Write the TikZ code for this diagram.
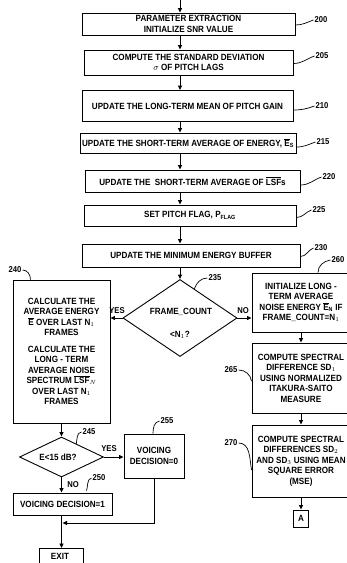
\documentclass[tikz,border=0pt]{standalone}
\usepackage{fontspec}
\setmainfont{Liberation Sans}[FakeStretch=0.9]
\usetikzlibrary{shapes.geometric,arrows.meta,calc}
\newcommand\bxfont{\bfseries\fontsize{9}{10.5}\selectfont}
\newcommand\lbfont{\bfseries\fontsize{8.5}{10}\selectfont}
\newcommand\ovl[1]{$\overline{\mbox{#1}}$}
\begin{document}
\begin{tikzpicture}[x=1pt,y=-1pt,
  box/.style={draw,line width=0.9pt,inner sep=1pt,align=center,font=\bxfont},
  dia/.style={draw,diamond,line width=0.9pt,inner sep=0pt},
  txt/.style={font=\bxfont,inner sep=0pt,align=center},
  arr/.style={line width=0.9pt,-{Triangle[length=4.5pt,width=4pt]}},
  lead/.style={line width=0.7pt},
  lbl/.style={font=\lbfont,inner sep=0pt}]
\clip (0,0) rectangle (347,563);
% main column
\coordinate (top) at (180,0);
\node[box,minimum width=213pt,minimum height=22pt] (b200) at (188.5,24) {PARAMETER EXTRACTION\\INITIALIZE SNR VALUE};
\node[box,minimum width=209pt,minimum height=25pt] (b205) at (188.5,62.5) {COMPUTE THE STANDARD DEVIATION\\$\sigma$ OF PITCH LAGS};
\node[box,minimum width=211pt,minimum height=31pt] (b210) at (187.5,106) {UPDATE THE LONG-TERM MEAN OF PITCH GAIN};
\node[box,minimum width=216pt,minimum height=20pt] (b215) at (188,143) {UPDATE THE SHORT-TERM AVERAGE OF ENERGY, \ovl{E}\textsubscript{S}};
\node[box,minimum width=215pt,minimum height=22pt] (b220) at (192.5,181) {UPDATE THE\ \ SHORT-TERM AVERAGE OF \ovl{LSF}s};
\node[box,minimum width=212pt,minimum height=21pt] (b225) at (190,215.5) {SET PITCH FLAG, P\textsubscript{FLAG}};
\node[box,minimum width=218pt,minimum height=23pt] (b230) at (191,255.5) {UPDATE THE MINIMUM ENERGY BUFFER};
\node[dia,minimum width=114pt,minimum height=77pt] (d235) at (180,318) {};
\node[txt] (t235a) at (181,312) {FRAME\_COUNT};
\node[txt] (t235b) at (180,335) {\textless N$_1$?};
% left branch
\node[box,minimum width=97pt,minimum height=143pt] (b240) at (61.5,351.5) {CALCULATE THE\\AVERAGE ENERGY\\\ovl{E} OVER LAST N$_1$\\FRAMES\\[6pt]CALCULATE THE\\LONG - TERM\\AVERAGE NOISE\\SPECTRUM \ovl{LSF}$_N$\\OVER LAST N$_1$\\FRAMES};
\node[dia,minimum width=84pt,minimum height=40pt] (d245) at (61.5,457) {};
\node[txt] (t245) at (58,457) {E\textless15 dB?};
\node[box,minimum width=60pt,minimum height=44pt] (b255) at (154,456) {VOICING\\DECISION=0};
\node[box,minimum width=99pt,minimum height=22pt] (b250) at (62.5,504) {VOICING DECISION=1};
\node[box,minimum width=44pt,minimum height=30pt,anchor=north] (bexit) at (61.5,548) {};
\node[txt] (texit) at (60,556) {EXIT};
\coordinate (j) at (62.5,523);
% right branch
\node[box,minimum width=98pt,minimum height=59pt] (b260) at (301,302.5) {INITIALIZE LONG -\\TERM AVERAGE\\NOISE ENERGY \ovl{E}\textsubscript{N} IF\\FRAME\_COUNT=N$_1$};
\node[box,minimum width=98pt,minimum height=70pt] (b265) at (301,378) {COMPUTE SPECTRAL\\DIFFERENCE SD$_1$\\USING NORMALIZED\\ITAKURA-SAITO\\MEASURE};
\node[box,minimum width=98pt,minimum height=72pt] (b270) at (301,461) {COMPUTE SPECTRAL\\DIFFERENCES SD$_2$\\AND SD$_3$ USING MEAN\\SQUARE ERROR\\(MSE)};
\node[box,minimum width=15pt,minimum height=17pt] (bA) at (301,518.5) {A};
% arrows
\draw[arr] (top) -- (b200.north -| top);
\draw[arr] (b200.south -| top) -- (b205.north -| top);
\draw[arr] (b205.south -| top) -- (b210.north -| top);
\draw[arr] (b210.south -| top) -- (b215.north -| top);
\draw[arr] (b215.south -| top) -- (b220.north -| top);
\draw[arr] (b220.south -| top) -- (b225.north -| top);
\draw[arr] (b225.south -| top) -- (b230.north -| top);
\draw[arr] (b230.south -| top) -- (d235.north);
\draw[arr] (d235.west) -- (b240.east |- d235.west);
\draw[arr] (d235.east) -- (b260.west |- d235.east);
\draw[arr] (b260.south) -- (b265.north);
\draw[arr] (b265.south) -- (b270.north);
\draw[arr] (b270.south) -- (bA.north);
\draw[arr] (b240.south -| d245) -- (d245.north);
\draw[arr] (d245.east) -- (b255.west |- d245.east);
\draw[arr] (d245.south) -- (b250.north -| d245.south);
\draw[arr] (b250.south -| d245) -- (bexit.north -| d245);
\draw[arr] (b255.south) -- (b255.south |- j) -- (j);
% yes/no
\node[lbl] (y235) at (117,311) {YES};
\node[lbl] (n235) at (243,311) {NO};
\node[lbl] (y245) at (109,449) {YES};
\node[lbl] (n245) at (73,485) {NO};
% reference labels
\node[lbl] (l200) at (321,20) {200};
\node[lbl] (l205) at (322,56) {205};
\node[lbl] (l210) at (322,106) {210};
\node[lbl] (l215) at (323,142) {215};
\node[lbl] (l220) at (329,177) {220};
\node[lbl] (l225) at (319,210) {225};
\node[lbl] (l230) at (321,248) {230};
\node[lbl] (l260) at (338,260) {260};
\node[lbl] (l235) at (215,278) {235};
\node[lbl] (l265) at (231,370) {265};
\node[lbl] (l270) at (231,443) {270};
\node[lbl] (l240) at (15,270) {240};
\node[lbl] (l245) at (89,432) {245};
\node[lbl] (l255) at (167,421) {255};
\node[lbl] (l250) at (99,478) {250};
\draw[lead] ([yshift=-1pt]b200.east) to[out=0,in=200] ([xshift=-1pt]l200.west);
\draw[lead] ([yshift=-1pt]b205.east) to[out=0,in=200] ([xshift=-1pt]l205.west);
\draw[lead] ([yshift=-4pt]b210.east) to[out=0,in=200] ([xshift=-1pt]l210.west);
\draw[lead] ([yshift=-4pt]b215.east) to[out=0,in=200] ([xshift=-1pt]l215.west);
\draw[lead] ([yshift=-4pt]b220.east) to[out=0,in=200] ([xshift=-1pt]l220.west);
\draw[lead] ([yshift=-2pt]b225.east) to[out=0,in=200] ([xshift=-1pt]l225.west);
\draw[lead] ([yshift=-1pt]b230.east) to[out=0,in=200] ([xshift=-1pt]l230.west);
\draw[lead] ([xshift=17pt]b260.north) to[out=90,in=190] ([xshift=-1pt]l260.west);
\draw[lead] ($(d235.north)!0.25!(d235.east)$) to[out=70,in=180] ([xshift=-1pt]l235.west);
\draw[lead] ([xshift=1pt]l265.east) to[out=0,in=100] ([yshift=-3pt]b265.west);
\draw[lead] ([xshift=1pt]l270.east) to[out=0,in=100] ([yshift=-9pt]b270.west);
\draw[lead] ([xshift=1pt]l240.east) to[out=0,in=90] ([xshift=-31pt]b240.north);
\draw[lead] ($(d245.north)!0.35!(d245.east)$) to[out=80,in=190] ([xshift=-1pt]l245.west);
\draw[lead] ([xshift=-1pt]b255.north) to[out=90,in=190] ([xshift=-1pt]l255.west);
\draw[lead] ([xshift=24pt,yshift=2pt]b250.north) to[out=70,in=200] ([xshift=-1pt]l250.west);
\end{tikzpicture}
\end{document}
